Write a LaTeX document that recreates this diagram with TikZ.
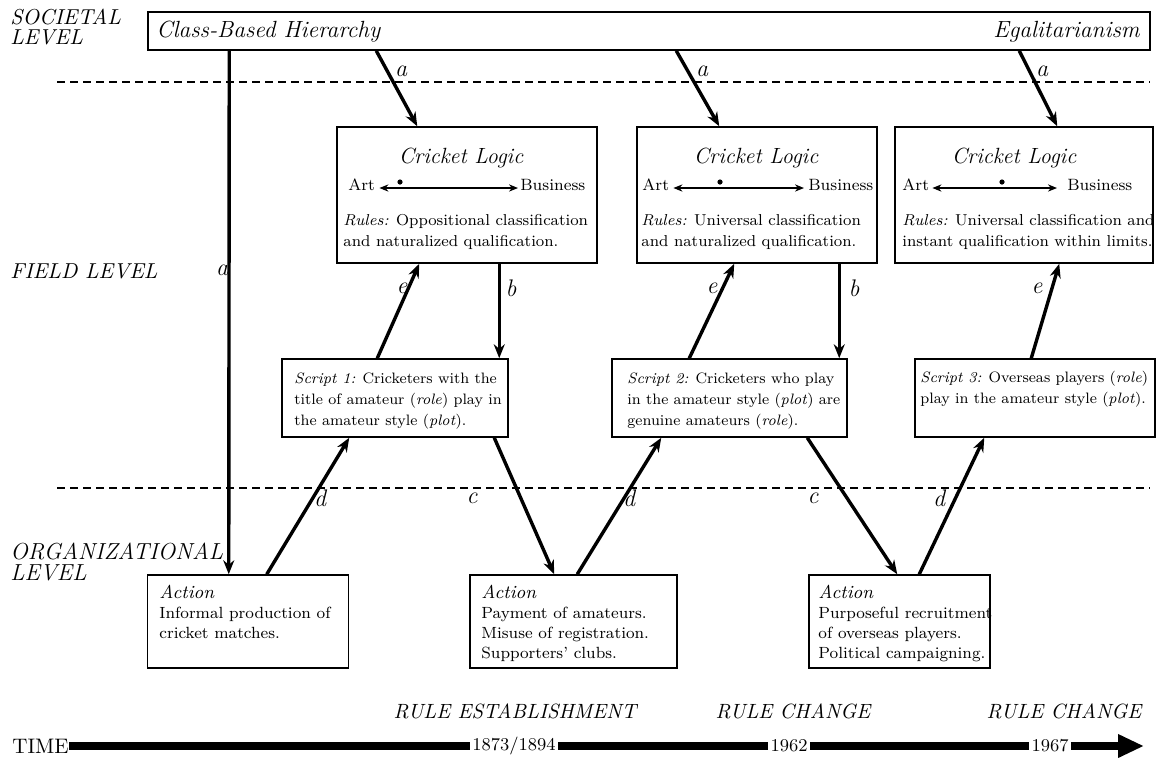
\documentclass[tikz,border=0pt]{standalone}
\usetikzlibrary{arrows.meta,calc}
\begin{document}
\begin{tikzpicture}[x=0.5pt,y=-0.5pt,
  box/.style={draw, line width=0.75pt, inner sep=0pt},
  txt/.style={inner sep=0pt, align=left, anchor=north west, font=\fontsize{7.9}{10.5}\selectfont},
  scrtxt/.style={inner sep=0pt, align=left, anchor=north west, font=\fontsize{7.55}{10.5}\selectfont},
  acttxt/.style={inner sep=0pt, align=left, anchor=north west, font=\fontsize{8.1}{10}\selectfont},
  lvl/.style={inner sep=0pt, align=left, anchor=north west, font=\fontsize{10.8}{9.8}\selectfont\itshape},
  arr/.style={line width=1.7pt, -{Stealth[length=7pt,width=5.5pt]}},
  lab/.style={inner sep=0pt, font=\fontsize{12}{12}\selectfont\itshape},
  dbl/.style={line width=0.6pt, {Stealth[length=4.5pt,width=3.6pt]}-{Stealth[length=4.5pt,width=3.6pt]}},
  dotm/.style={circle, fill, inner sep=0pt, minimum size=2.6pt},
  sepline/.style={dashed, dash pattern=on 4pt off 2.5pt, line width=0.8pt},
  bar/.style={line width=4pt},
  yr/.style={inner sep=1pt, font=\fontsize{9}{9}\selectfont},
  rl/.style={inner sep=0pt, font=\fontsize{10.3}{10.3}\selectfont\itshape},
  small/.style={inner sep=0pt, font=\fontsize{8.2}{10}\selectfont},
  logic/.style={inner sep=0pt, anchor=base, font=\fontsize{11}{11}\selectfont\itshape},
  soctxt/.style={inner sep=0pt, font=\fontsize{11.7}{11.7}\selectfont\itshape},
]
\useasboundingbox (0,0) rectangle (1157,757);

% level labels
\node[lvl] (lsoc) at (10,9) {SOCIETAL\\LEVEL};
\node[lvl, anchor=base west] (lfield) at (10,278) {FIELD LEVEL};
\node[lvl, font=\fontsize{11.6}{10.3}\selectfont\itshape] (lorg) at (10,543) {ORGANIZATIONAL\\LEVEL};

% dashed separators
\coordinate (d1l) at (57,82);  \coordinate (d1r) at (1150,82);
\coordinate (d2l) at (57,488); \coordinate (d2r) at (1150,488);
\draw[sepline] (d1l) -- (d1r);
\draw[sepline] (d2l) -- (d2r);

% societal box
\node[box, minimum width=501pt, minimum height=19pt] (soc) at (649,31) {};
\node[soctxt, anchor=base west] (cbh) at (156,37) {Class-Based Hierarchy};
\node[soctxt, anchor=base east] (egal) at (1140,37) {Egalitarianism};

% logic boxes
\node[box, minimum width=130pt, minimum height=68pt] (lg1) at (467,195) {};
\node[box, minimum width=120pt, minimum height=68pt] (lg2) at (757,195) {};
\node[box, minimum width=129pt, minimum height=68pt] (lg3) at (1024,195) {};

\node[logic] (cl1) at (461,163) {Cricket Logic};
\node[logic] (cl2) at (756,163) {Cricket Logic};
\node[logic] (cl3) at (1014,163) {Cricket Logic};

\node[small, anchor=base west] (art1) at (348,190) {Art};
\node[small, anchor=base west] (bus1) at (520,190) {Business};
\node[small, anchor=base west] (art2) at (642,190) {Art};
\node[small, anchor=base west] (bus2) at (808,190) {Business};
\node[small, anchor=base west] (art3) at (902,190) {Art};
\node[small, anchor=base west] (bus3) at (1067,190) {Business};
\draw[dbl] ([shift={(2pt,1pt)}]art1.base east) -- ([shift={(-1pt,1pt)}]bus1.base west);
\draw[dbl] ([shift={(2pt,1pt)}]art2.base east) -- ([shift={(-2pt,1pt)}]bus2.base west);
\draw[dbl] ([shift={(1.5pt,1pt)}]art3.base east) -- ([shift={(-5pt,1pt)}]bus3.base west);
\node[dotm] (dot1) at (400,182) {};
\node[dotm] (dot2) at (720,182) {};
\node[dotm] (dot3) at (1002,182) {};

\node[txt] (ru1) at (343,214) {\textit{Rules:} Oppositional classification\\and naturalized qualification.};
\node[txt] (ru2) at (641,214) {\textit{Rules:} Universal classification\\and naturalized qualification.};
\node[txt] (ru3) at (902,214) {\textit{Rules:} Universal classification and\\instant qualification within limits.};

% script boxes
\node[box, minimum width=113pt, minimum height=39pt] (s1) at (395,398) {};
\node[box, minimum width=117.5pt, minimum height=39pt] (s2) at (729.5,398) {};
\node[box, minimum width=120pt, minimum height=39pt] (s3) at (1035,398) {};

\node[scrtxt] (sc1) at (294,372) {\textit{Script 1:} Cricketers with the\\title of amateur (\textit{role}) play in\\the amateur style (\textit{plot}).};
\node[scrtxt] (sc2) at (627,372) {\textit{Script 2:} Cricketers who play\\in the amateur style (\textit{plot}) are\\genuine amateurs (\textit{role}).};
\node[scrtxt] (sc3) at (920,371) {\textit{Script 3:} Overseas players (\textit{role})\\play in the amateur style (\textit{plot}).};

% action boxes
\node[box, minimum width=100.5pt, minimum height=46.5pt] (a1) at (248,621.5) {};
\node[box, minimum width=103.5pt, minimum height=46.5pt] (a2) at (573.5,621.5) {};
\node[box, minimum width=90.5pt, minimum height=46.5pt] (a3) at (899.5,621.5) {};

\node[acttxt] (ac1) at (159,585) {{\fontsize{9.3}{10}\selectfont\itshape Action}\\Informal production of\\cricket matches.};
\node[acttxt] (ac2) at (481,585) {{\fontsize{9.3}{10}\selectfont\itshape Action}\\Payment of amateurs.\\Misuse of registration.\\Supporters' clubs.};
\node[acttxt] (ac3) at (818,585) {{\fontsize{9.3}{10}\selectfont\itshape Action}\\Purposeful recruitment\\of overseas players.\\Political campaigning.};

% arrows a
\draw[arr] ($(soc.south west)+(82,0)$) -- ($(a1.north west)+(82,0)$);
\draw[arr] ($(soc.south west)+(229,0)$) -- ($(lg1.north west)+(81,0)$);
\draw[arr] ($(soc.south west)+(529,0)$) -- ($(lg2.north west)+(83,0)$);
\draw[arr] ($(soc.south west)+(872,0)$) -- ($(lg3.north west)+(163,0)$);
% b
\draw[arr] ($(lg1.south west)+(163,0)$) -- ($(s1.north west)+(218,0)$);
\draw[arr] ($(lg2.south west)+(203,0)$) -- ($(s2.north west)+(228,0)$);
% e
\draw[arr] ($(s1.north west)+(96,0)$) -- ($(lg1.south west)+(83,0)$);
\draw[arr] ($(s2.north west)+(78,0)$) -- ($(lg2.south west)+(98,0)$);
\draw[arr] ($(s3.north west)+(117,0)$) -- ($(lg3.south west)+(165,0)$);
% d
\draw[arr] ($(a1.north west)+(120,0)$) -- ($(s1.south west)+(68,0)$);
\draw[arr] ($(a2.north west)+(108,0)$) -- ($(s2.south west)+(50,0)$);
\draw[arr] ($(a3.north west)+(111,0)$) -- ($(s3.south west)+(70,0)$);
% c
\draw[arr] ($(s1.south west)+(213,0)$) -- ($(a2.north west)+(85,0)$);
\draw[arr] ($(s2.south west)+(196,0)$) -- ($(a3.north west)+(89,0)$);

% labels
\node[lab] (la0) at (222,270) {a};
\node[lab] (la1) at (401,71) {a};
\node[lab] (la2) at (702,71) {a};
\node[lab] (la3) at (1042,71) {a};
\node[lab] (lb1) at (511,288) {b};
\node[lab] (lb2) at (854,288) {b};
\node[lab] (le1) at (402,288) {e};
\node[lab] (le2) at (712,288) {e};
\node[lab] (le3) at (1037,288) {e};
\node[lab] (ld1) at (320,498) {d};
\node[lab] (ld2) at (629,498) {d};
\node[lab] (ld3) at (939,498) {d};
\node[lab] (lc1) at (472,498) {c};
\node[lab] (lc2) at (813,498) {c};

% timeline
\node[rl] (re) at (515,711) {RULE ESTABLISHMENT};
\node[rl] (rc1) at (793,711) {RULE CHANGE};
\node[rl] (rc2) at (1064,711) {RULE CHANGE};
\node[inner sep=0pt, anchor=west, font=\fontsize{10.5}{10.5}\selectfont] (time) at (12,746) {TIME};
\node[yr] (y1) at (514,746) {1873/1894};
\node[yr] (y2) at (789,746) {1962};
\node[yr] (y3) at (1050,746) {1967};
\coordinate (tend) at (1144,746);
\draw[bar] (time.east) -- (y1.west);
\draw[bar] (y1.east) -- (y2.west);
\draw[bar] (y2.east) -- (y3.west);
\draw[bar, -{Triangle[length=13pt,width=11pt]}] (y3.east) -- (tend);
\end{tikzpicture}
\end{document}
